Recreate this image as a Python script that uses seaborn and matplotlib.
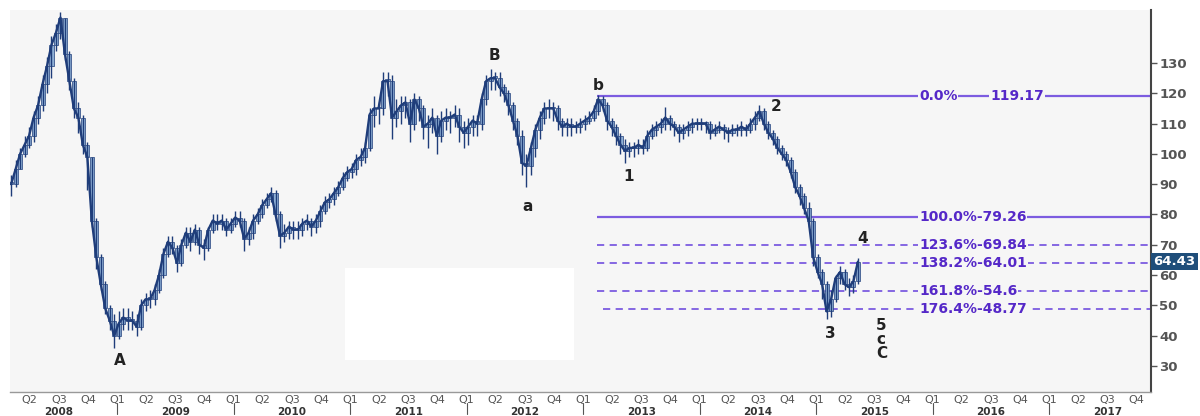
import numpy as np
import pandas as pd
import matplotlib
matplotlib.use('Agg')
import matplotlib.pyplot as plt
import matplotlib.transforms as mtransforms
from matplotlib.patches import Rectangle
import seaborn as sns

# ── data: bi-weekly bars ────────────────────────────────────────
close = [90, 95, 100, 103, 106, 112, 116, 123, 129, 136,
         140, 145, 133, 124, 115, 112, 103, 99, 78, 66,
         57, 49, 45, 40, 44, 46, 45, 45, 43, 50,
         52, 52, 55, 60, 67, 71, 69, 64, 70, 74,
         71, 75, 70, 69, 75, 78, 77, 78, 75, 77,
         79, 78, 72, 74, 78, 80, 83, 85, 87, 80,
         73, 74, 76, 75, 75, 77, 78, 76, 78, 81,
         84, 85, 87, 89, 92, 94, 95, 98, 99, 102,
         113, 115, 115, 124, 124, 112, 114, 116, 117, 110,
         118, 115, 109, 110, 112, 106, 111, 112, 112, 113,
         109, 107, 109, 111, 110, 118, 124, 125, 125, 122,
         120, 116, 111, 106, 97, 96, 102, 108, 112, 115,
         115, 115, 111, 109, 110, 109, 109, 110, 111, 112,
         114, 118, 116, 111, 109, 106, 103, 101, 102, 102,
         103, 102, 106, 108, 109, 110, 112, 110, 109, 107,
         108, 109, 110, 110, 110, 110, 107, 108, 109, 108,
         107, 108, 108, 109, 108, 110, 112, 114, 110, 107,
         105, 102, 100, 98, 94, 89, 86, 82, 78, 66,
         61, 57, 48, 52, 59, 61, 57, 56, 58, 64.43]
high = [93, 98, 102, 106, 109, 114, 119, 126, 132, 139,
        143, 147, 145, 134, 125, 117, 113, 104, 99, 79,
        67, 58, 50, 47, 48, 49, 49, 48, 47, 52,
        54, 55, 57, 62, 69, 73, 73, 70, 72, 76,
        76, 77, 76, 72, 76, 80, 80, 80, 79, 79,
        81, 81, 79, 76, 80, 82, 85, 87, 89, 88,
        81, 77, 78, 78, 78, 79, 80, 79, 80, 83,
        86, 87, 89, 91, 94, 96, 97, 100, 102, 104,
        115, 119, 117, 127, 127, 126, 118, 119, 119, 118,
        120, 119, 116, 113, 115, 113, 114, 115, 114, 116,
        115, 111, 112, 113, 113, 120, 126, 128, 127, 127,
        123, 121, 117, 112, 108, 100, 104, 110, 114, 117,
        118, 117, 116, 112, 112, 112, 111, 112, 113, 114,
        116, 119.5, 119, 117, 112, 110, 107, 105, 104, 104,
        105, 105, 108, 110, 111, 112, 115.5, 113, 111, 110,
        110, 111, 112, 112, 112, 111, 111, 110, 111, 110,
        109, 110, 110, 111, 110, 112, 114, 116, 115, 111,
        108, 106, 103, 101, 99, 95, 90, 87, 84, 79,
        67, 62, 58, 55, 60, 63, 62, 59, 60, 65.5]
low = [86, 89, 95, 99, 102, 104, 110, 114, 120, 125,
       134, 138, 131, 121, 112, 107, 100, 88, 76, 62,
       55, 47, 42, 36, 39, 42, 42, 42, 40, 42,
       48, 49, 50, 54, 59, 66, 67, 61, 63, 69,
       68, 70, 67, 65, 68, 74, 75, 75, 73, 74,
       76, 76, 68, 70, 72, 77, 79, 82, 84, 78,
       69, 71, 72, 72, 72, 73, 75, 73, 74, 76,
       80, 82, 83, 86, 88, 91, 92, 93, 96, 97,
       101, 109, 110, 113, 119, 105, 109, 110, 112, 104,
       108, 111, 105, 102, 107, 100, 104, 108, 107, 109,
       104, 102, 103, 106, 106, 108, 116, 121, 121, 119,
       117, 113, 108, 103, 93, 89, 93, 99, 105, 110,
       112, 111, 108, 106, 106, 106, 107, 107, 108, 110,
       111, 113, 114, 108, 106, 103, 100, 97, 99, 99,
       100, 100, 101, 105, 106, 107, 108, 108, 106, 104,
       105, 106, 107, 108, 108, 107, 105, 106, 107, 105,
       104, 106, 106, 106, 106, 107, 108, 111, 108, 105,
       103, 100, 98, 96, 92, 87, 83, 80, 76, 63,
       59, 52, 45.5, 46, 51, 57, 55, 53, 54, 57]

fib_values = [119.17, 79.26, 69.84, 64.01, 54.6, 48.77]
fib_pcts = ['0.0%', '100.0%', '123.6%', '138.2%', '161.8%', '176.4%']
fib_solid = [True, True, False, False, False, False]

wave_text = ['A', 'B', 'a', 'b', '1', '2', '3', '4', '5', 'c', 'C']
wave_x = [2009.02, 2012.24, 2012.52, 2013.13, 2013.39, 2014.66,
          2015.12, 2015.40, 2015.56, 2015.56, 2015.56]
wave_y = [31.7, 132.6, 82.5, 122.7, 92.7, 115.5, 40.6, 72.2, 43.2, 38.6, 34.0]

years = list(range(2008, 2018))
last_price = 64.43

# ── styling ─────────────────────────────────────────────────────
sns.set_style('white')
plt.rcParams['font.family'] = ['DejaVu Sans']

navy = '#1f3d7a'
light = '#8fb0d6'
purple_line = '#7c5ce0'
purple_text = '#5528c8'
gray = '#555555'
bg = '#f6f6f6'

n = len(close)
x = 2008.09 + np.arange(n) / 26.0
df = pd.DataFrame({'x': x, 'close': close, 'high': high, 'low': low})
df['open'] = df['close'].shift(1).fillna(df['close'].iloc[0])

fig = plt.figure(figsize=(12, 4.16), dpi=100)
ax = fig.add_axes([10 / 1200, 24 / 416, 1141 / 1200, 382 / 416])
ax.set_facecolor(bg)
ax.add_patch(Rectangle((0.294, 0.084), 0.2, 0.24, transform=ax.transAxes,
                       facecolor='white', edgecolor='none', zorder=0.5))

# candles: light bodies with navy edge, navy wicks, navy close line
body_lo = df[['open', 'close']].min(axis=1)
body_h = (df['close'] - df['open']).abs().clip(lower=0.6)
ax.bar(df['x'], body_h, bottom=body_lo, width=0.9 / 26, color=light,
       edgecolor=navy, linewidth=0.5, zorder=2)
ax.vlines(df['x'], df['low'], df['high'], color=navy, lw=1.0, zorder=3)
sns.lineplot(data=df, x='x', y='close', ax=ax, color=navy, lw=1.7,
             zorder=4, legend=False)

# fibonacci levels
x_end = 2017.875
for v, p, solid in zip(fib_values, fib_pcts, fib_solid):
    if solid:
        ax.hlines(v, 2013.12, x_end, color=purple_line, lw=1.6, zorder=1.5)
    else:
        ax.hlines(v, 2013.12 if v > 50 else 2013.17, x_end, color=purple_line,
                  lw=1.3, linestyles=(0, (4, 3)), zorder=1.5)
    box = dict(facecolor=bg, edgecolor='none', pad=0.5)
    if p == '0.0%':
        ax.text(2015.884, v, p, color=purple_text, fontsize=10,
                fontweight='bold', va='center', ha='left', bbox=box, zorder=5)
        ax.text(2016.494, v, f'{v:g}', color=purple_text, fontsize=10,
                fontweight='bold', va='center', ha='left', bbox=box, zorder=5)
    else:
        ax.text(2015.884, v, f'{p}-{v:g}', color=purple_text, fontsize=10,
                fontweight='bold', va='center', ha='left', bbox=box, zorder=5)

# wave labels
for t, wx, wy in zip(wave_text, wave_x, wave_y):
    ax.text(wx, wy, t, fontsize=11, fontweight='bold', color='#222222',
            ha='center', va='center', zorder=6)

# axes
ax.set_xlim(2008.08, 2017.875)
ax.set_ylim(21.4, 147.5)
ax.set_xlabel('')
ax.set_ylabel('')
for s in ['top', 'left']:
    ax.spines[s].set_visible(False)
ax.spines['right'].set_color('#444444')
ax.spines['right'].set_linewidth(1.5)
ax.spines['bottom'].set_color('#999999')
ax.spines['bottom'].set_linewidth(1.0)

ax.yaxis.tick_right()
ax.set_yticks(range(30, 140, 10))
ax.tick_params(axis='y', direction='out', length=4, width=1, color=gray,
               labelsize=9.5, labelcolor=gray, pad=2)
for lab in ax.get_yticklabels():
    lab.set_fontweight('bold')

qpos = [y + q / 4 for y in years for q in range(4)]
qlab = [f'Q{q + 1}' for y in years for q in range(4)]
qpos, qlab = qpos[1:], qlab[1:]
ax.set_xticks(qpos)
ax.set_xticklabels(qlab)
ax.tick_params(axis='x', direction='out', length=1.5, width=0.8, color=gray,
               labelsize=8, labelcolor=gray, pad=0.3)

trans = mtransforms.blended_transform_factory(ax.transData, ax.transAxes)
for y in years:
    ax.text(y + 0.5, -0.04, str(y), transform=trans, ha='center', va='top',
            fontsize=7.5, fontweight='bold', color='#333333', clip_on=False)
    if y > 2008:
        ax.plot([y, y], [-0.03, -0.058], transform=trans, color=gray, lw=0.8,
                clip_on=False)

# last price tag
ax.text(1.002, last_price, f'{last_price:.2f}',
        transform=mtransforms.blended_transform_factory(ax.transAxes, ax.transData),
        ha='left', va='center', fontsize=9.5, fontweight='bold', color='white',
        bbox=dict(facecolor='#1f4e7a', edgecolor='none', pad=1.5), clip_on=False)

fig.savefig('out.png', dpi=100)
